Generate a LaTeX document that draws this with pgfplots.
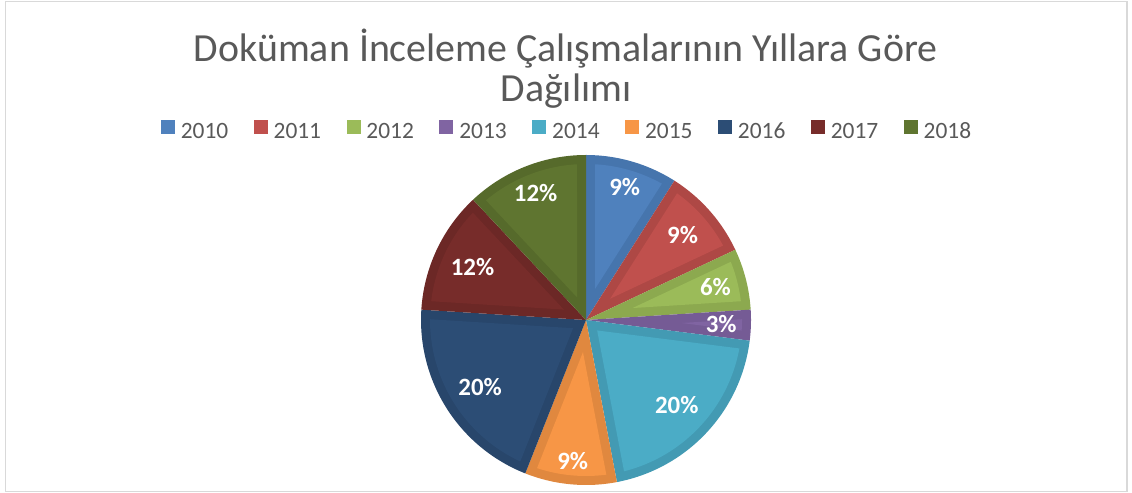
\documentclass[border=0pt]{standalone}
\usepackage{pgfplots}
\usepackage{pgfplotstable}
\pgfplotsset{compat=1.18}
\usepackage{fontspec}
\setmainfont{Carlito}
\definecolor{tgray}{HTML}{595959}
\definecolor{frame}{HTML}{D9D9D9}
\definecolor{f2010}{HTML}{4F81BD}\definecolor{b2010}{HTML}{4675AD}
\definecolor{f2011}{HTML}{C0504D}\definecolor{b2011}{HTML}{AE4845}
\definecolor{f2012}{HTML}{9BBB59}\definecolor{b2012}{HTML}{8CA94F}
\definecolor{f2013}{HTML}{8064A2}\definecolor{b2013}{HTML}{755B95}
\definecolor{f2014}{HTML}{4BACC6}\definecolor{b2014}{HTML}{439AB3}
\definecolor{f2015}{HTML}{F79646}\definecolor{b2015}{HTML}{E0883F}
\definecolor{f2016}{HTML}{2C4D75}\definecolor{b2016}{HTML}{28466B}
\definecolor{f2017}{HTML}{772C2A}\definecolor{b2017}{HTML}{6C2826}
\definecolor{f2018}{HTML}{5F7530}\definecolor{b2018}{HTML}{566A2B}

\pgfplotstableread{
year pct start k
2010 9 0 0.84
2011 9 9 0.78
2012 6 18 0.81
2013 3 24 0.82
2014 20 27 0.755
2015 9 47 0.86
2016 20 56 0.76
2017 12 76 0.76
2018 12 88 0.83
}\piedata

% slice from #1 % to #2 % (clockwise from top), fill #3, bevel #4
\newcommand{\slice}[4]{%
 \addplot[forget plot, fill=#4, draw=none, domain=#1:#2, samples=60]
   ({586+165*sin(3.6*x)}, {173+165*cos(3.6*x)}) -- (586,173) -- cycle;
 \addplot[forget plot, fill=#3, draw=none, domain=#1+0.92:#2-0.92, samples=60]
   ({586+156*sin(3.6*x)}, {173+156*cos(3.6*x)})
   -- ({586+9/sin(1.8*(#2-#1))*sin(1.8*(#1+#2))}, {173+9/sin(1.8*(#2-#1))*cos(1.8*(#1+#2))}) -- cycle;
}

\pgfplotsset{sq/.style={legend image code/.code={\fill[#1] (0bp,-1bp) rectangle (13bp,12bp);}}}

\begin{document}
\begin{tikzpicture}
\path[use as bounding box] (0,0) rectangle (1132bp,493bp);
\begin{axis}[
  scale only axis, width=1132bp, height=493bp,
  xmin=0, xmax=1132, ymin=0, ymax=493,
  hide axis, clip=false,
  legend columns=9,
  legend style={at={(axis cs:566,363)}, anchor=center, draw=none, fill=none,
    font=\fontsize{23.5}{28}\selectfont, text=tgray,
    nodes={inner sep=0pt},
    /tikz/every odd column/.append style={column sep=6.5bp},
    /tikz/every even column/.append style={column sep=25.5bp}},
]
\draw[frame, line width=1.5bp] (5.5,1.5) rectangle (1127,491.5);
\slice{0}{9}{f2010}{b2010}
\slice{9}{18}{f2011}{b2011}
\slice{18}{24}{f2012}{b2012}
\slice{24}{27}{f2013}{b2013}
\slice{27}{47}{f2014}{b2014}
\slice{47}{56}{f2015}{b2015}
\slice{56}{76}{f2016}{b2016}
\slice{76}{88}{f2017}{b2017}
\slice{88}{100}{f2018}{b2018}

\addplot[forget plot, draw=none, mark=none, nodes near coords={\pgfmathprintnumber[assume math mode=true]{\pgfplotspointmeta}\%},
  point meta=\thisrow{pct},
  every node near coord/.style={anchor=center, text=white, font=\bfseries\fontsize{25}{30}\selectfont}]
  table[x expr={586+165*\thisrow{k}*sin(3.6*(\thisrow{start}+\thisrow{pct}/2))},
        y expr={173+165*\thisrow{k}*cos(3.6*(\thisrow{start}+\thisrow{pct}/2))}] {\piedata};

\addlegendimage{sq=f2010}\addlegendentry{2010}
\addlegendimage{sq=f2011}\addlegendentry{2011}
\addlegendimage{sq=f2012}\addlegendentry{2012}
\addlegendimage{sq=f2013}\addlegendentry{2013}
\addlegendimage{sq=f2014}\addlegendentry{2014}
\addlegendimage{sq=f2015}\addlegendentry{2015}
\addlegendimage{sq=f2016}\addlegendentry{2016}
\addlegendimage{sq=f2017}\addlegendentry{2017}
\addlegendimage{sq=f2018}\addlegendentry{2018}

\node[anchor=base, text=tgray, font=\fontsize{40}{48}\selectfont] at (axis cs:565.5,431) {Doküman İnceleme Çalışmalarının Yıllara Göre};
\node[anchor=base, text=tgray, font=\fontsize{40}{48}\selectfont] at (axis cs:566,391) {Dağılımı};
\end{axis}
\end{tikzpicture}
\end{document}
